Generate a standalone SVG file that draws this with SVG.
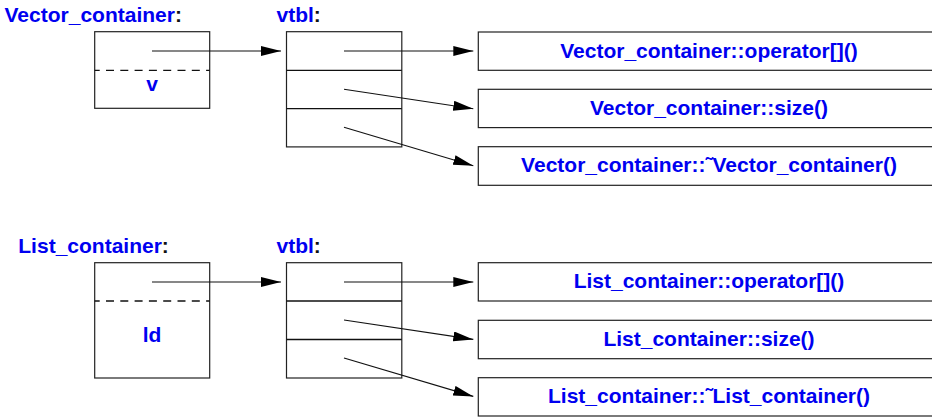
<svg xmlns="http://www.w3.org/2000/svg" width="932" height="417" viewBox="0 0 932 417">
<style>
.box{fill:#fff;stroke:#222;stroke-width:1.2}
.div{stroke:#111;stroke-width:1.3}
.dash{stroke:#111;stroke-width:1.3;stroke-dasharray:8,6.3;stroke-dashoffset:3}
.t{font-family:"Liberation Sans",Arial,sans-serif;font-weight:bold;font-size:21px;fill:#0000f0}
.m{text-anchor:middle}
.k{fill:#111}
.c line{stroke:#111;stroke-width:1.1;marker-end:url(#ah)}
</style>
<defs>
<marker id="ah" markerUnits="userSpaceOnUse" markerWidth="22" markerHeight="12" refX="20" refY="5" orient="auto">
<path d="M0,0 L20,5 L0,10 Z" fill="#000"/>
</marker>
</defs>
<rect width="932" height="417" fill="#fff"/>

<g id="vector">
<text class="t" x="4.5" y="22">Vector_container<tspan class="k">:</tspan></text>
<rect class="box" x="94.7" y="31.7" width="115" height="76.6"/>
<line class="dash" x1="94.7" y1="70.3" x2="209.7" y2="70.3"/>
<text class="t m" x="152" y="91">v</text>
</g>

<g id="vtbl1">
<text class="t" x="276.5" y="22">vtbl<tspan class="k">:</tspan></text>
<rect class="box" x="286.5" y="31.7" width="115.3" height="115.2"/>
<line class="div" x1="286.5" y1="70.3" x2="401.8" y2="70.3"/>
<line class="div" x1="286.5" y1="108.6" x2="401.8" y2="108.6"/>
</g>

<g id="vf1">
<rect class="box" x="478.3" y="32" width="470" height="38.3"/>
<text class="t m" x="709" y="57.5">Vector_container::operator[]()</text>
</g>
<g id="vf2">
<rect class="box" x="478.3" y="89.3" width="470" height="38.3"/>
<text class="t m" x="709" y="115">Vector_container::size()</text>
</g>
<g id="vf3">
<rect class="box" x="478.3" y="146.7" width="470" height="38.6"/>
<text class="t m" x="709" y="172">Vector_container::˜Vector_container()</text>
</g>

<g id="list">
<text class="t" x="18.3" y="252.5">List_container<tspan class="k">:</tspan></text>
<rect class="box" x="94.7" y="262.7" width="115" height="115.3"/>
<line class="dash" x1="94.7" y1="301" x2="209.7" y2="301"/>
<text class="t m" x="152" y="342">ld</text>
</g>

<g id="vtbl2">
<text class="t" x="276.5" y="252.5">vtbl<tspan class="k">:</tspan></text>
<rect class="box" x="286.5" y="262.7" width="115.3" height="115.3"/>
<line class="div" x1="286.5" y1="301" x2="401.8" y2="301"/>
<line class="div" x1="286.5" y1="339.5" x2="401.8" y2="339.5"/>
</g>

<g id="lf1">
<rect class="box" x="478.3" y="262.7" width="470" height="38.3"/>
<text class="t m" x="709" y="288.3">List_container::operator[]()</text>
</g>
<g id="lf2">
<rect class="box" x="478.3" y="320.3" width="470" height="38.4"/>
<text class="t m" x="709" y="346">List_container::size()</text>
</g>
<g id="lf3">
<rect class="box" x="478.3" y="377.7" width="470" height="38.3"/>
<text class="t m" x="709" y="403">List_container::˜List_container()</text>
</g>

<g id="connectors" class="c">
<line x1="152" y1="51" x2="281" y2="51"/>
<line x1="344" y1="51" x2="473.3" y2="51"/>
<line x1="344" y1="89.3" x2="473.3" y2="108.7"/>
<line x1="344" y1="127.3" x2="473.3" y2="165.7"/>
<line x1="152" y1="282" x2="281" y2="282"/>
<line x1="344" y1="282" x2="473.3" y2="282"/>
<line x1="344" y1="320" x2="473.3" y2="339.4"/>
<line x1="344" y1="358" x2="473.3" y2="396.4"/>
</g>
</svg>
